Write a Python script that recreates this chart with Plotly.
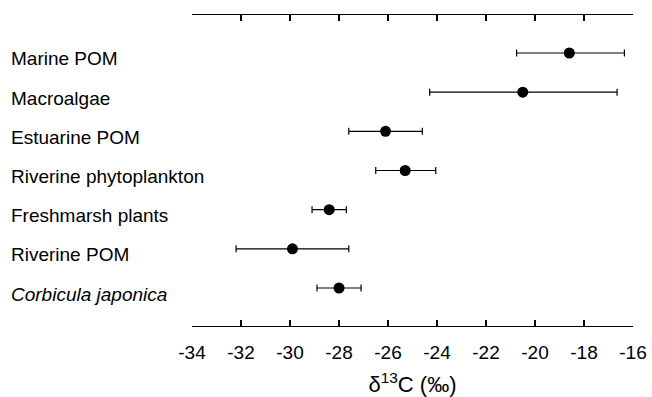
import plotly.graph_objects as go

categories = ["Marine POM", "Macroalgae", "Estuarine POM", "Riverine phytoplankton",
              "Freshmarsh plants", "Riverine POM", "<i>Corbicula japonica</i>"]
mean_d13c = [-18.6, -20.5, -26.1, -25.3, -28.4, -29.9, -28.0]
low_d13c = [-20.75, -24.3, -27.6, -26.5, -29.1, -32.2, -28.9]
high_d13c = [-16.35, -16.65, -24.6, -24.05, -27.7, -27.6, -27.1]
x_ticks = [-34, -32, -30, -28, -26, -24, -22, -20, -18, -16]

n = len(categories)
ypos = [n - 1 - i for i in range(n)]
err_plus = [h - m for h, m in zip(high_d13c, mean_d13c)]
err_minus = [m - l for m, l in zip(mean_d13c, low_d13c)]

FONT = "Liberation Sans, Arial, sans-serif"

W, H = 652, 397
ML, MT = 192, 15
MR = W - 633
MB = H - 326
W_PLOT = W - ML - MR

fig = go.Figure()
fig.add_trace(go.Scatter(
    x=mean_d13c, y=ypos, mode="markers",
    marker=dict(color="black", size=11),
    error_x=dict(type="data", symmetric=False, array=err_plus, arrayminus=err_minus,
                 color="black", thickness=1.2, width=3.5),
    showlegend=False, hoverinfo="skip",
))

for name, y in zip(categories, ypos):
    fig.add_annotation(
        x=(9 - ML) / W_PLOT, xref="paper", y=y, yref="y",
        text=name, showarrow=False, xanchor="left", yanchor="middle",
        yshift=-6, font=dict(family=FONT, size=19, color="black"),
    )

fig.update_layout(
    width=W, height=H,
    margin=dict(l=ML, r=MR, t=MT, b=MB, autoexpand=False),
    paper_bgcolor="white", plot_bgcolor="white",
    font=dict(family=FONT, size=19, color="black"),
    xaxis=dict(
        range=[-34, -16], tickvals=x_ticks, ticktext=[str(v) for v in x_ticks],
        ticks="inside", ticklen=6, tickwidth=1.2, tickcolor="black",
        showline=True, linecolor="black", linewidth=1.2, mirror="ticks",
        showgrid=False, zeroline=False, automargin=False,
        ticklabelstandoff=9, ticklabeloverflow="allow",
        tickfont=dict(family=FONT, size=19, color="black"),
        title=dict(text="δ<sup>13</sup>C (‰)", font=dict(family=FONT, size=22, color="black"),
                   standoff=14),
    ),
    yaxis=dict(
        range=[-0.97, 6.97], showticklabels=False, showgrid=False, zeroline=False,
        showline=False, ticks="", automargin=False,
    ),
)

fig.write_html("out.html",
               config={"displayModeBar": False, "staticPlot": True},
               post_script="document.body.style.margin='0';document.body.style.overflow='hidden';")
